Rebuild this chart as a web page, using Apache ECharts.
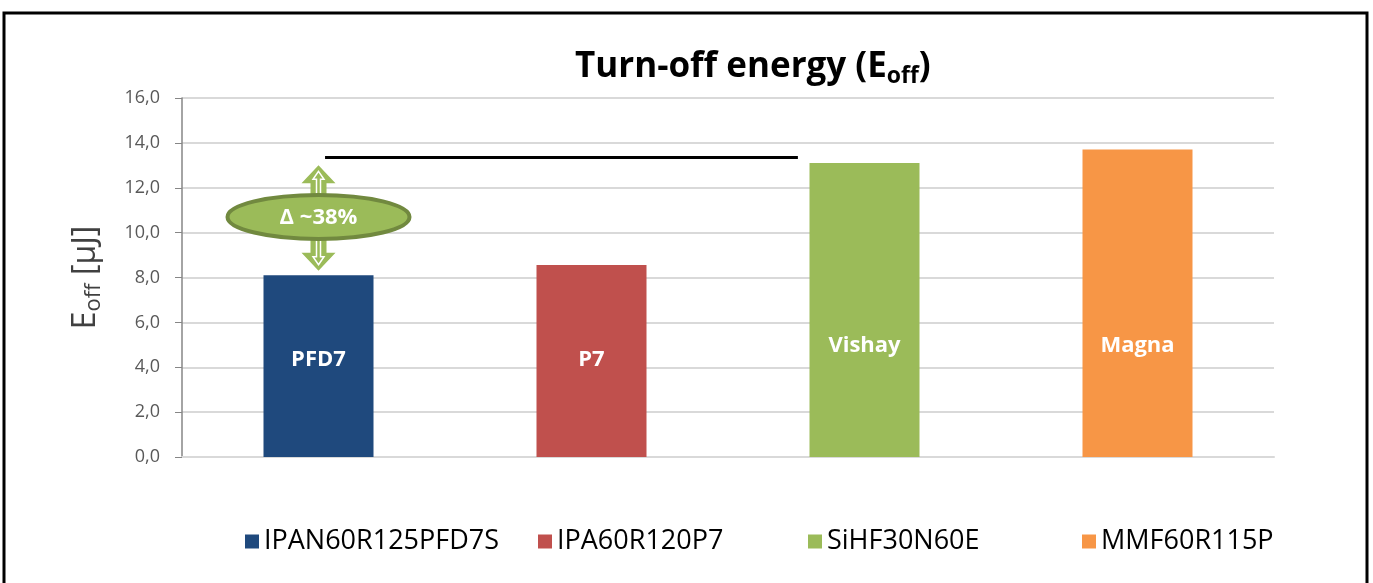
<!DOCTYPE html>
<html>
<head>
<meta charset="utf-8">
<script src="https://cdn.jsdelivr.net/npm/echarts@6/dist/echarts.min.js"></script>
<style>
  html, body { margin: 0; padding: 0; background: #fff; }
  #chart { width: 1373px; height: 583px; }
</style>
</head>
<body>
<div id="chart"></div>
<script>
// data
const categories = ['IPAN60R125PFD7S', 'IPA60R120P7', 'SiHF30N60E', 'MMF60R115P'];
const shortNames = ['PFD7', 'P7', 'Vishay', 'Magna'];
const eoffValues = [8.1, 8.56, 13.1, 13.7];
const barColors = ['#1f497d', '#c0504d', '#9bbb59', '#f79646'];

// annotation: horizontal reference line and the ~38% gap marker
const refLine = { from: 0.024, to: 1.756, value: 13.35 };
const gapText = 'Δ ~38%';
const gapMarker = { cat: 0, top: 13.0, bottom: 8.3, center: 10.7 };

// layout only
const labelLift = [86, 86, 100, 100];
const legendLeft = [245, 538, 808, 1082];

const font = '"Open Sans", "DejaVu Sans", sans-serif';

let chart = echarts.init(document.getElementById('chart'));

const series = categories.map(function (name, i) {
    return {
        name: name,
        type: 'bar',
        stack: 'all',
        barWidth: 110,
        itemStyle: { color: barColors[i] },
        label: {
            show: true,
            position: 'insideBottom',
            distance: labelLift[i],
            color: '#fff',
            fontFamily: font,
            fontWeight: 'bold',
            fontSize: 22,
            formatter: function () { return shortNames[i]; }
        },
        data: eoffValues.map(function (v, j) { return j === i ? v : '-'; })
    };
});

const legends = categories.map(function (name, i) {
    return {
        left: legendLeft[i],
        top: 528,
        padding: 0,
        icon: 'rect',
        itemWidth: 14,
        itemHeight: 14,
        itemGap: 0,
        textStyle: { fontFamily: font, fontSize: 27, color: '#000' },
        data: [name]
    };
});

chart.setOption({
    animation: false,
    textStyle: { fontFamily: font },
    title: {
        text: '{t|Turn-off energy (E}{s|off}{t|)}',
        left: 570,
        top: 39,
        textStyle: {
            rich: {
                t: { fontFamily: font, fontWeight: 'bold', fontSize: 35, color: '#000', lineHeight: 46 },
                s: { fontFamily: font, fontWeight: 'bold', fontSize: 23, color: '#000', lineHeight: 46, padding: [19, 0, 0, 0] }
            }
        }
    },
    legend: legends,
    grid: {
        left: 182,
        right: 99,
        top: 98,
        bottom: 126
    },
    xAxis: {
        type: 'category',
        data: categories,
        axisLine: { lineStyle: { color: '#d9d9d9', width: 2 } },
        axisTick: { show: false },
        axisLabel: { show: false }
    },
    yAxis: {
        type: 'value',
        min: 0,
        max: 16,
        interval: 2,
        name: '{e|E}{s|off}{e| [µJ]}',
        nameLocation: 'middle',
        nameGap: 76,
        nameRotate: 90,
        nameTextStyle: {
            rich: {
                e: { fontFamily: font, fontSize: 32, color: '#404040', lineHeight: 40 },
                s: { fontFamily: font, fontSize: 22, color: '#404040', lineHeight: 40, padding: [16, 0, 0, 0] }
            }
        },
        axisLine: { show: true, lineStyle: { color: '#868686', width: 1.5 } },
        axisTick: { show: true, length: 7, lineStyle: { color: '#868686' } },
        axisLabel: {
            margin: 22,
            fontSize: 18,
            color: '#595959',
            formatter: function (v) { return v.toFixed(1).replace('.', ','); }
        },
        splitLine: { lineStyle: { color: '#d9d9d9', width: 2 } }
    },
    series: series
});

// position in pixels from a (fractional) category index and a value
function px(idx, val) {
    let a = chart.convertToPixel({ gridIndex: 0 }, [0, val]);
    let b = chart.convertToPixel({ gridIndex: 0 }, [1, val]);
    return [a[0] + (b[0] - a[0]) * idx, a[1]];
}

function arrow(tipX, tipY, baseY, headW, headL, shaftW) {
    let dir = baseY > tipY ? 1 : -1;
    let hb = tipY + dir * headL;
    return [
        [tipX, tipY],
        [tipX + headW / 2, hb],
        [tipX + shaftW / 2, hb],
        [tipX + shaftW / 2, baseY],
        [tipX - shaftW / 2, baseY],
        [tipX - shaftW / 2, hb],
        [tipX - headW / 2, hb]
    ];
}

let l0 = px(refLine.from, refLine.value);
let l1 = px(refLine.to, refLine.value);
let cTop = px(gapMarker.cat, gapMarker.top);
let cBot = px(gapMarker.cat, gapMarker.bottom);
let cMid = px(gapMarker.cat, gapMarker.center);

chart.setOption({
    graphic: [
        {
            type: 'rect',
            shape: { x: 4, y: 13, width: 1363, height: 600 },
            style: { fill: 'none', stroke: '#000', lineWidth: 3 },
            silent: true
        },
        {
            type: 'line',
            shape: { x1: l0[0], y1: l0[1], x2: l1[0], y2: l1[1] },
            style: { stroke: '#000', lineWidth: 3 },
            z: 10
        },
        {
            type: 'polygon',
            shape: { points: arrow(cTop[0], cTop[1], cMid[1], 34, 18, 16) },
            style: { fill: '#9bbb59' },
            z: 10
        },
        {
            type: 'polygon',
            shape: { points: arrow(cTop[0], cTop[1] + 6, cMid[1], 11, 8, 4) },
            style: { fill: '#9bbb59', stroke: '#fff', lineWidth: 1.5 },
            z: 11
        },
        {
            type: 'polygon',
            shape: { points: arrow(cBot[0], cBot[1], cMid[1], 34, 18, 16) },
            style: { fill: '#9bbb59' },
            z: 10
        },
        {
            type: 'polygon',
            shape: { points: arrow(cBot[0], cBot[1] - 6, cMid[1], 11, 8, 4) },
            style: { fill: '#9bbb59', stroke: '#fff', lineWidth: 1.5 },
            z: 11
        },
        {
            type: 'ellipse',
            shape: { cx: cMid[0], cy: cMid[1], rx: 91, ry: 22 },
            style: { fill: '#9bbb59', stroke: '#71893f', lineWidth: 4 },
            z: 12
        },
        {
            type: 'text',
            x: cMid[0],
            y: cMid[1] + 1,
            style: {
                text: gapText,
                fill: '#fff',
                font: 'bold 22px ' + font,
                align: 'center',
                verticalAlign: 'middle'
            },
            z: 13
        }
    ]
});
</script>
</body>
</html>
